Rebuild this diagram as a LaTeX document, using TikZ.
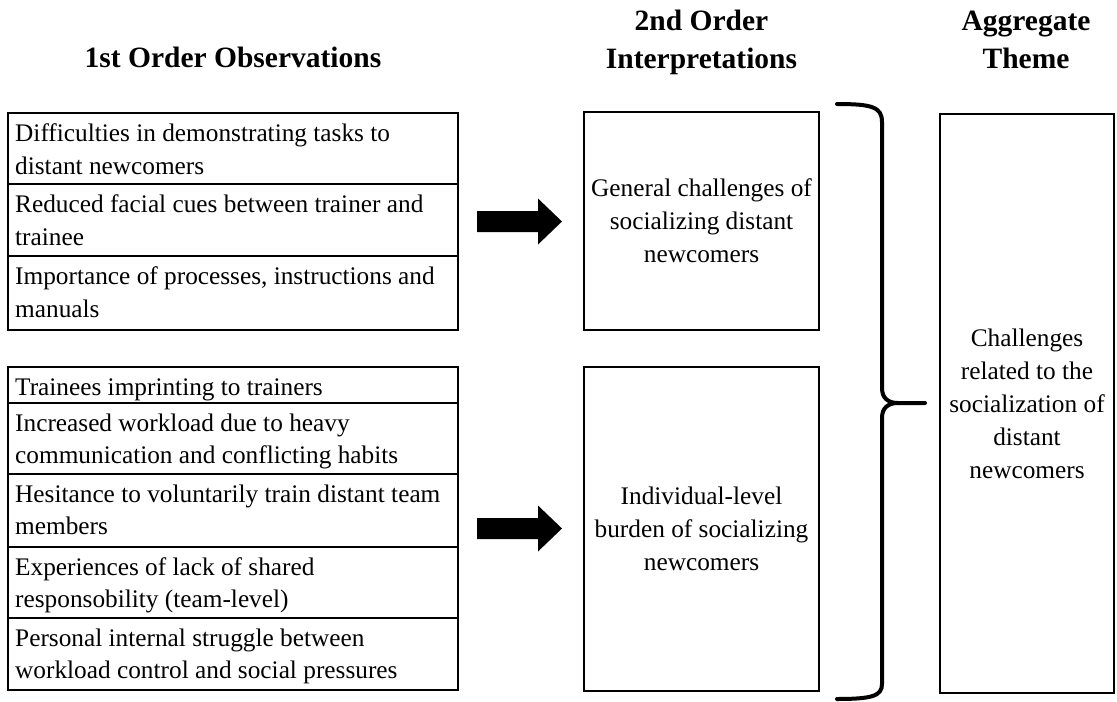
\documentclass[tikz,border=0pt]{standalone}
\usepackage{fontspec}
\setmainfont{Liberation Serif}
\usetikzlibrary{calc}
\newcommand\bodyfont{\fontsize{25.4}{33.1}\selectfont}
\newcommand\headfont{\fontsize{29.6}{37.6}\selectfont\bfseries}

\begin{document}
\begin{tikzpicture}[x=1bp,y=-1bp,
  rowbox/.style={draw, line width=1.2bp, minimum width=450bp, minimum height=#1,
                 anchor=north west, inner sep=0pt, outer sep=0pt},
  rowtext/.style={anchor=base west, inner sep=0pt, text width=445bp, align=flush left, font=\bodyfont},
  frame/.style={draw, line width=2.4bp},
  midbox/.style={draw, line width=2.4bp, minimum width=235bp, minimum height=#1,
                 anchor=north west, inner sep=0pt, outer sep=0pt},
  ctext/.style={inner sep=0pt, align=center, font=\bodyfont},
  head/.style={anchor=base, inner sep=0pt, text width=320bp, align=flush center, font=\headfont},
  bracestroke/.style={line width=4bp, line cap=round, line join=round},
  blockarrow/.style={fill=black}
]
\useasboundingbox (0,0) rectangle (1117,702);

% column headings
\node[head] (h1) at (233,68) {1st Order Observations};
\node[head] (h2) at (701.5,31) {2nd Order\\Interpretations};
\node[head] (h3) at (1026,31) {Aggregate\\Theme};

% first group of observations
\node[rowbox=71bp] (rA1) at (8,113) {};
\node[rowbox=72bp] (rA2) at (rA1.south west) {};
\node[rowbox=74bp] (rA3) at (rA2.south west) {};
\draw[frame] (rA1.north west) rectangle (rA3.south east);
\node[rowtext] (tA1) at ($(rA1.north west)+(7,28.5)$) {Difficulties in demonstrating tasks to\\distant newcomers};
\node[rowtext] (tA2) at ($(rA2.north west)+(7,28.5)$) {Reduced facial cues between trainer and\\trainee};
\node[rowtext] (tA3) at ($(rA3.north west)+(7,28.5)$) {Importance of processes, instructions and\\manuals};

% second group of observations
\node[rowbox=36bp] (rB1) at (8,367) {};
\node[rowbox=71bp] (rB2) at (rB1.south west) {};
\node[rowbox=73bp] (rB3) at (rB2.south west) {};
\node[rowbox=71bp] (rB4) at (rB3.south west) {};
\node[rowbox=72bp] (rB5) at (rB4.south west) {};
\draw[frame] (rB1.north west) rectangle (rB5.south east);
\node[rowtext] (tB1) at ($(rB1.north west)+(7,28)$) {Trainees imprinting to trainers};
\node[rowtext] (tB2) at ($(rB2.north west)+(7,28)$) {Increased workload due to heavy\\communication and conflicting habits};
\node[rowtext] (tB3) at ($(rB3.north west)+(7,28)$) {Hesitance to voluntarily train distant team\\members};
\node[rowtext] (tB4) at ($(rB4.north west)+(7,28)$) {Experiences of lack of shared\\responsobility (team-level)};
\node[rowtext] (tB5) at ($(rB5.north west)+(7,28)$) {Personal internal struggle between\\workload control and social pressures};

% second order interpretations
\node[midbox=218bp] (m1) at (584,112) {};
\node[ctext] (tm1) at (m1.center) {General challenges of\\socializing distant\\newcomers};
\node[midbox=324bp] (m2) at (584,367) {};
\node[ctext] (tm2) at (m2.center) {Individual-level\\burden of socializing\\newcomers};

% block arrows from each group to its interpretation
\coordinate (a1) at ($(rA1.north east)!0.5!(rA3.south east)$);
\coordinate (a2) at ($(rB1.north east)!0.5!(rB5.south east)$);
\foreach \a in {a1,a2}{
  \fill[blockarrow] ($(\a)+(19,-10.5)$) -- ++(61,0) -- ++(0,-12.5) -- ++(24,23)
    -- ++(-24,23) -- ++(0,-12.5) -- ++(-61,0) -- cycle;
}

% aggregate theme
\node[draw, line width=2bp, minimum width=174bp, minimum height=579bp,
      anchor=north west, inner sep=0pt] (agg) at (939,113) {};
\node[ctext] (tagg) at (agg.center) {Challenges\\related to the\\socialization of\\distant\\newcomers};

% right brace joining both interpretations
\coordinate (tip) at (925,403);
\draw[bracestroke] (837,104) .. controls (872,104) and (882,107) .. (882,122)
  -- (882,388) .. controls (882,398) and (888,403) .. (898,403) -- (tip);
\draw[bracestroke] (898,403) .. controls (888,403) and (882,408) .. (882,418)
  -- (882,684) .. controls (882,696) and (872,699) .. (837,699);
\end{tikzpicture}
\end{document}
